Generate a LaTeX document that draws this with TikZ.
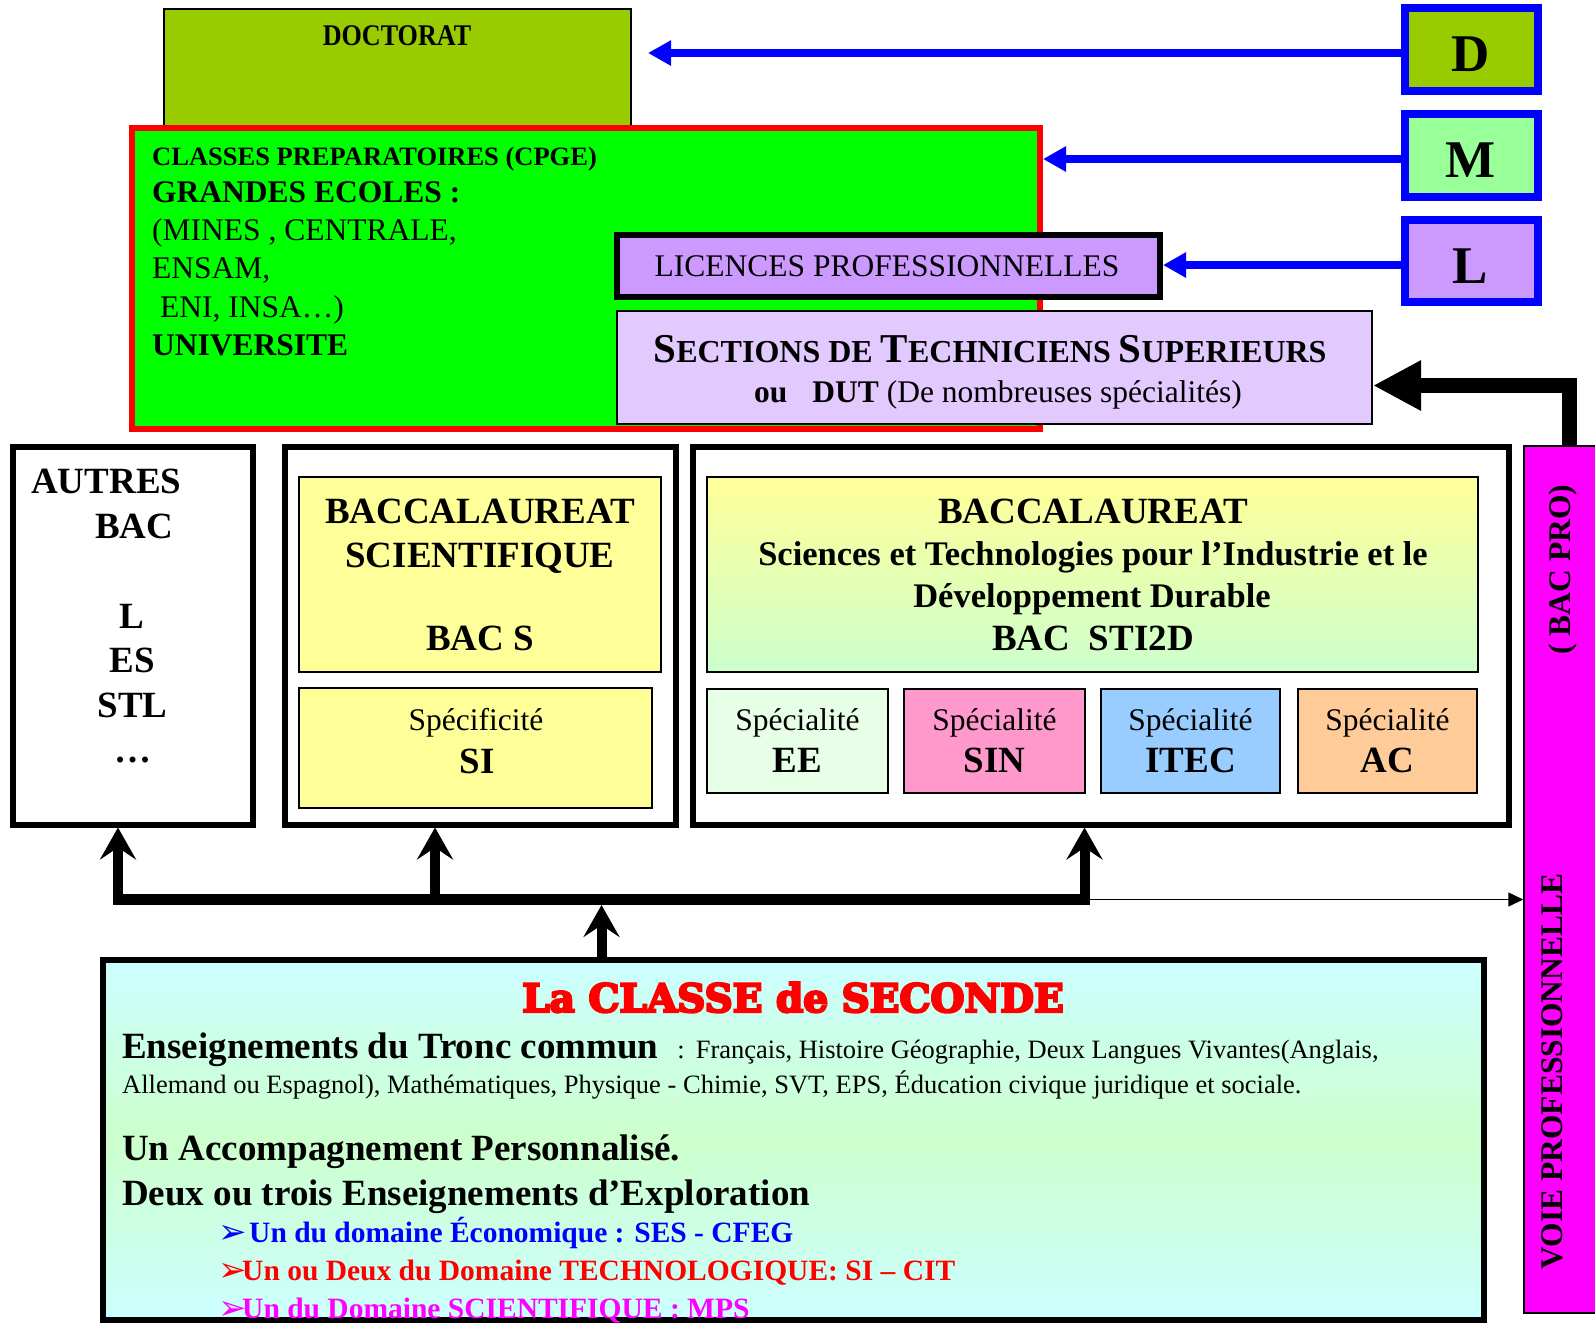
\documentclass[tikz,border=0pt]{standalone}
\usepackage{fontspec}
\usepackage{graphicx}
\setmainfont{Liberation Serif}
\newfontfamily\symfont{DejaVu Sans}
\newfontfamily\titlefont{DejaVu Serif Bold}[FakeBold=6]
\usetikzlibrary{arrows.meta}
\newcommand\fsz[1]{\fontsize{#1pt}{#1pt}\selectfont}
\definecolor{cDoc}{HTML}{99CC00}
\definecolor{cGreen}{HTML}{00FF00}
\definecolor{cRed}{HTML}{FF0000}
\definecolor{cBlue}{HTML}{0000FF}
\definecolor{cM}{HTML}{99FF99}
\definecolor{cLic}{HTML}{CC99FF}
\definecolor{cSts}{HTML}{E2CAFF}
\definecolor{cYel}{HTML}{FFFF99}
\definecolor{cPale}{HTML}{CCFFCC}
\definecolor{cCyan}{HTML}{CCFFFF}
\definecolor{cEE}{HTML}{E6FFE6}
\definecolor{cSIN}{HTML}{FF99CC}
\definecolor{cITEC}{HTML}{99CCFF}
\definecolor{cAC}{HTML}{FFCC99}
\definecolor{cMag}{HTML}{FF00FF}
\begin{document}
\begin{tikzpicture}[x=1pt,y=-1pt,
  rbox/.style={draw, rectangle, inner sep=0pt},
  sz/.style 2 args={minimum width=#1pt, minimum height=#2pt},
  txt/.style={inner sep=0pt, anchor=base},
  txtl/.style={inner sep=0pt, anchor=base west},
  vtxt/.style={inner sep=0pt, anchor=base, rotate=90},
  puce/.style={inner sep=0pt, anchor=base west, font=\symfont\fsz{34}},
  lettre/.style={rbox, draw=cBlue, line width=8pt, sz={133}{83}},
  blanc/.style={rbox, line width=6pt, fill=white, sz={#1}{378}},
  spec/.style={rbox, line width=2pt, sz={#1}{104}},
  bluearr/.style={draw=cBlue, line width=7.5pt, -{Triangle[length=23pt,width=24pt]}},
  bus/.style={line width=11pt, line cap=rect},
  uparr/.style={line width=10pt, -{Stealth[length=32pt,width=36pt,inset=12pt]}},
  bigarr/.style={line width=15pt, -{Triangle[length=48pt,width=47pt]}},
  thinarr/.style={line width=1.5pt, -{Triangle[length=15pt,width=14pt]}}
]
\useasboundingbox (0,0) rectangle (1595,1323);

% --- doctorat, grandes ecoles, licences, STS
\node[rbox, line width=2pt, fill=cDoc, sz={467}{118}] (doc) at (397.5,68) {};
\node[txt] (tdoc) at (397,45) {\scalebox{0.87}[1]{\fsz{30}\bfseries DOCTORAT}};

\node[rbox, draw=cRed, line width=6pt, fill=cGreen, sz={908}{301}] (cpge) at (586,278.5) {};
\node[txtl] (cp1) at (152,165) {\fsz{26.5}\bfseries CLASSES PREPARATOIRES (CPGE)};
\node[txtl] (cp2) at (152,202) {\fsz{31.5}\bfseries GRANDES ECOLES :};
\node[txtl] (cp3) at (152,240) {\fsz{31.5}(MINES , CENTRALE,};
\node[txtl] (cp4) at (152,278) {\fsz{31.5}ENSAM,};
\node[txtl] (cp5) at (160,317) {\fsz{31.5}ENI, INSA…)};
\node[txtl] (cp6) at (152,355) {\fsz{31.5}\bfseries UNIVERSITE};

\node[rbox, line width=6pt, fill=cLic, sz={543}{62}] (lic) at (888.5,266) {};
\node[txt] (tlic) at (887,276) {\fsz{31.5}LICENCES PROFESSIONNELLES};

\node[rbox, line width=2pt, fill=cSts, sz={755}{113}] (sts) at (994.5,367.5) {};
\node[txt] (tsts1) at (990,362) {\bfseries\fsz{41}S\fsz{32}ECTIONS DE \fsz{41}T\fsz{32}ECHNICIENS \fsz{41}S\fsz{32}UPERIEURS};
\node[txt] (tsts2) at (998,402) {\fsz{31.5}\textbf{ou}\hspace{25pt}\textbf{DUT} (De nombreuses spécialités)};

% --- D, M, L
\node[lettre, fill=cDoc] (Dbox) at (1471.5,49.5) {};
\node[lettre, fill=cM] (Mbox) at (1471.5,155.5) {};
\node[lettre, fill=cLic, minimum height=82pt] (Lbox) at (1471.5,261) {};
\node[txt] (tD) at (1470.5,71) {\fsz{53}\bfseries D};
\node[txt] (tM) at (1470.5,177) {\fsz{53}\bfseries M};
\node[txt] (tL) at (1470.5,283) {\fsz{53}\bfseries L};

\coordinate (dtip) at (648,53);
\coordinate (mrow) at (0,159);
\coordinate (lrow) at (0,265);
\draw[bluearr] (Dbox.west |- dtip) -- (dtip);
\draw[bluearr] (Mbox.west |- mrow) -- (cpge.east |- mrow);
\draw[bluearr] (Lbox.west |- lrow) -- (lic.east |- lrow);

% --- baccalaureats
\node[blanc=240] (autres) at (133,635.5) {};
\node[txtl] (a1) at (31,493) {\fsz{37}\bfseries AUTRES};
\node[txtl] (a2) at (95,538) {\fsz{37}\bfseries BAC};
\node[txt] (a3) at (132,628) {\fsz{37}\bfseries L};
\node[txt] (a4) at (132.5,672) {\fsz{37}\bfseries ES};
\node[txt] (a5) at (132.5,717) {\fsz{37}\bfseries STL};
\node[txt] (a6) at (132.5,762) {\fsz{37}\bfseries …};

\node[blanc=391] (bacs) at (480.5,635.5) {};
\node[rbox, line width=2pt, fill=cYel, sz={362}{195}] (bacsTop) at (480,574.5) {};
\node[rbox, line width=2pt, fill=cYel, sz={353}{120}] (bacsSpec) at (475.5,748) {};
\node[txt] (bs1) at (480,523) {\fsz{37}\bfseries BACCALAUREAT};
\node[txt] (bs2) at (480,567) {\fsz{37}\bfseries SCIENTIFIQUE};
\node[txt] (bs3) at (480,650) {\fsz{37}\bfseries BAC S};
\node[txt] (bs4) at (476,730) {\fsz{31.5}Spécificité};
\node[txt] (bs5) at (477,773) {\fsz{37}\bfseries SI};

\node[blanc=816.5] (sti) at (1100.75,635.5) {};
\node[rbox, line width=2pt, top color=cYel, bottom color=cPale, sz={771}{195}] (stiTop) at (1092.5,574.5) {};
\node[txt] (st1) at (1093,523) {\fsz{37}\bfseries BACCALAUREAT};
\node[txt] (st2) at (1093,565) {\fsz{34.5}\bfseries Sciences et Technologies pour l’Industrie et le};
\node[txt] (st3) at (1092,607) {\fsz{34.5}\bfseries Développement Durable};
\node[txt] (st4) at (1093,650) {\fsz{37}\bfseries BAC\ \ STI2D};

\node[spec=181, fill=cEE] (ee) at (797.5,741) {};
\node[spec=181, fill=cSIN] (sin) at (994.5,741) {};
\node[spec=179, fill=cITEC] (itec) at (1190.5,741) {};
\node[spec=179, fill=cAC] (ac) at (1387.5,741) {};
\foreach \b/\n in {ee/EE, sin/SIN, itec/ITEC, ac/AC}{
  \node[txt] (sp-\b) at (\b.center |- 0,730) {\fsz{31.5}Spécialité};
  \node[txt] (nm-\b) at (\b.center |- 0,772) {\fsz{37}\bfseries \n};
}

% --- voie professionnelle
\node[rbox, line width=1.5pt, fill=cMag, sz={86}{867}] (bacpro) at (1567,879.5) {};
\node[vtxt] (vp1) at (1570,569.5) {\fsz{31.5}\bfseries (\ BAC PRO)};
\node[vtxt] (vp2) at (1562,1071.5) {\fsz{31.5}\bfseries VOIE PROFESSIONNELLE};

% --- classe de seconde
\node[rbox, line width=6pt, top color=cCyan, bottom color=cCyan, middle color=cPale, sz={1381}{360}] (seconde) at (793.5,1140) {};
\node[txt, text=cRed] (s0) at (793,1012) {\titlefont\fsz{39}La CLASSE de SECONDE};
\node[txtl] (s1) at (122,1058) {{\fsz{37}\bfseries Enseignements du Tronc commun}\fsz{26.5}\hspace{19pt}:\hspace{11pt}Français, Histoire Géographie, Deux Langues Vivantes(Anglais,};
\node[txtl] (s2) at (122,1093) {\fsz{26.5}Allemand ou Espagnol), Mathématiques, Physique - Chimie, SVT, EPS, Éducation civique juridique et sociale.};
\node[txtl] (s3) at (122,1160) {\fsz{37}\bfseries Un Accompagnement Personnalisé.};
\node[txtl] (s4) at (122,1205) {\fsz{37}\bfseries Deux ou trois Enseignements d’Exploration};
\node[puce, text=cBlue] (b1m) at (218,1243) {➢};
\node[txtl, text=cBlue] (b1) at (249,1242) {\fsz{29.5}\bfseries Un du domaine Économique : SES - CFEG};
\node[puce, text=cRed] (b2m) at (218,1281) {➢};
\node[txtl, text=cRed] (b2) at (242,1280) {\fsz{29.5}\bfseries Un ou Deux du Domaine TECHNOLOGIQUE: SI – CIT};
\node[puce, text=cMag] (b3m) at (218,1319) {➢};
\node[txtl, text=cMag] (b3) at (242,1318) {\fsz{29.5}\bfseries Un du Domaine SCIENTIFIQUE : MPS};

% --- liaisons
\coordinate (jA) at (118,899.5);
\coordinate (jS) at (435,899.5);
\coordinate (jT) at (1084.5,899.5);
\coordinate (jC) at (601.5,905);
\coordinate (bend) at (1569,385.5);
\draw[bus] (jA) -- (jT);
\draw[uparr] (jA) -- (jA |- autres.south);
\draw[uparr] (jS) -- (jS |- bacs.south);
\draw[uparr] (jT) -- (jT |- sti.south);
\draw[uparr] (jC |- seconde.north) -- (jC);
\draw[thinarr] (jT) -- (jT -| bacpro.west);
\draw[bigarr] (bend |- bacpro.north) -- (bend) -- (bend -| sts.east);
\end{tikzpicture}
\end{document}
